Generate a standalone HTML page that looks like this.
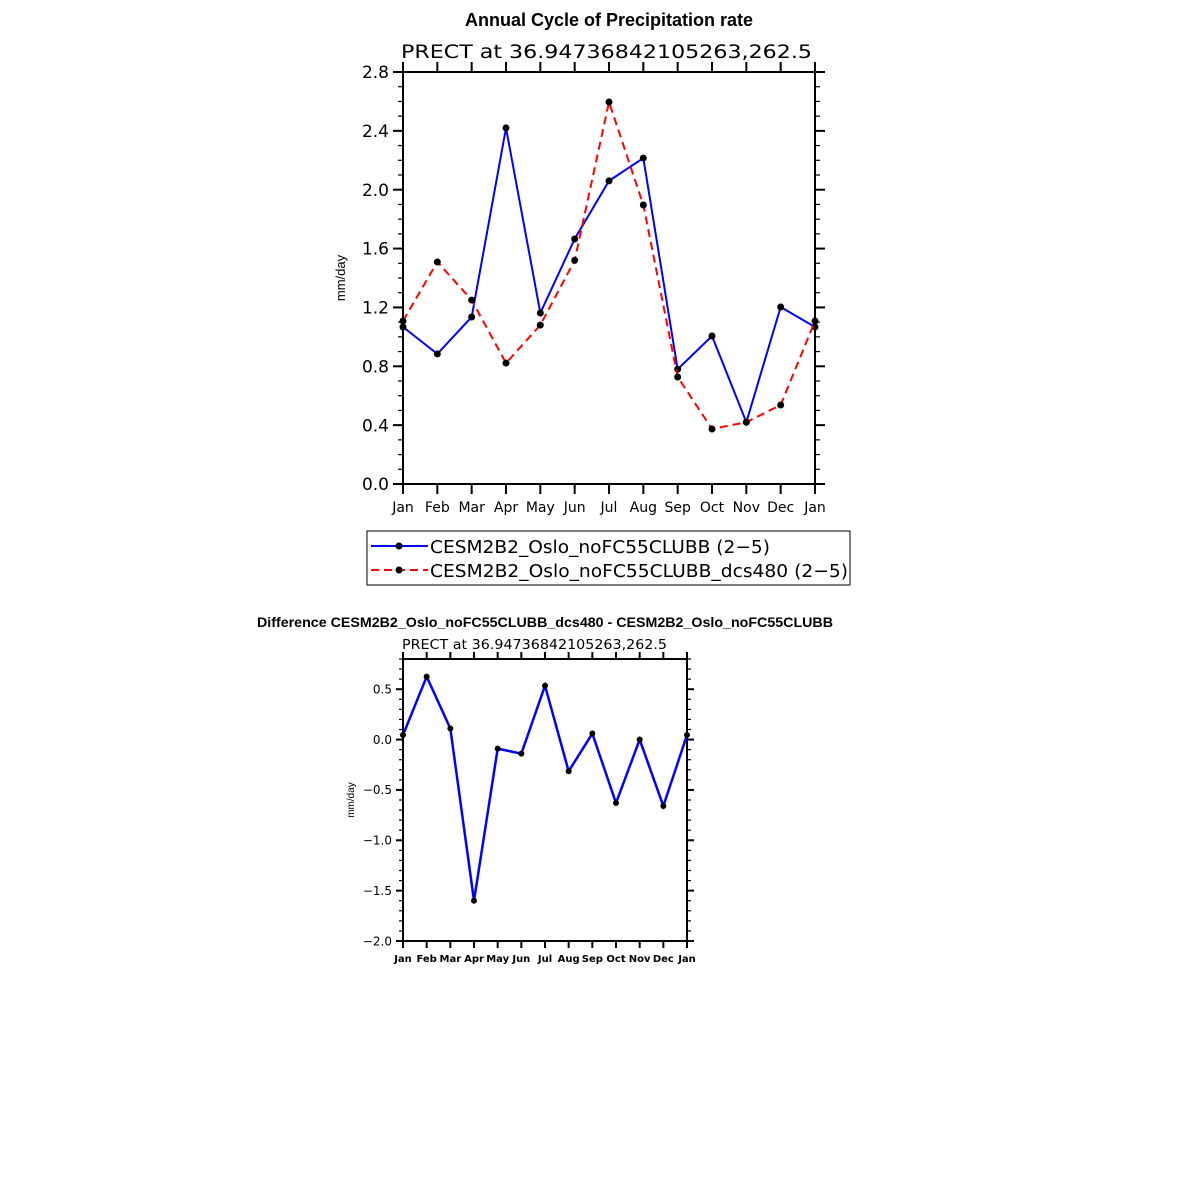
<!DOCTYPE html>
<html><head><meta charset="utf-8"><style>
body{margin:0;background:#fff;}
svg{display:block;font-family:"Liberation Sans",sans-serif;}
</style></head><body>
<svg id="chart" width="1183" height="1183" viewBox="0 0 1183 1183" xmlns="http://www.w3.org/2000/svg">
<rect width="1183" height="1183" fill="#fff"/>
<text x="609" y="26" text-anchor="middle" font-size="18" font-weight="bold">Annual Cycle of Precipitation rate</text>
<text x="401" y="58" font-size="19" font-family="DejaVu Sans,sans-serif" textLength="411" lengthAdjust="spacingAndGlyphs">PRECT at 36.94736842105263,262.5</text>
<text x="257" y="627" font-size="14" font-weight="bold" textLength="576" lengthAdjust="spacingAndGlyphs">Difference CESM2B2_Oslo_noFC55CLUBB_dcs480 - CESM2B2_Oslo_noFC55CLUBB</text>
<text x="402" y="649" font-size="13" font-family="DejaVu Sans,sans-serif" textLength="265" lengthAdjust="spacingAndGlyphs">PRECT at 36.94736842105263,262.5</text>
<g id="top"></g><g id="bot"></g>
<g>
<rect x="367" y="531" width="483" height="54" fill="#fff" stroke="#000" stroke-width="1"/>
<line x1="371" y1="546" x2="428" y2="546" stroke="#00f" stroke-width="2"/>
<circle cx="399" cy="546" r="3.5" fill="#000"/>
<text x="430" y="553" font-size="18" font-family="DejaVu Sans,sans-serif" textLength="340" lengthAdjust="spacingAndGlyphs">CESM2B2_Oslo_noFC55CLUBB (2−5)</text>
<line x1="371" y1="570" x2="428" y2="570" stroke="#f00" stroke-width="2" stroke-dasharray="8,5"/>
<circle cx="399" cy="570" r="3.5" fill="#000"/>
<text x="430" y="577" font-size="18" font-family="DejaVu Sans,sans-serif" textLength="418" lengthAdjust="spacingAndGlyphs">CESM2B2_Oslo_noFC55CLUBB_dcs480 (2−5)</text>
</g>
</svg>
<script>
const months = ["Jan","Feb","Mar","Apr","May","Jun","Jul","Aug","Sep","Oct","Nov","Dec","Jan"];
const baseVals = [1.067,0.884,1.135,2.42,1.162,1.665,2.06,2.215,0.78,1.006,0.42,1.203,1.067];
const dcsVals = [1.108,1.509,1.25,0.822,1.08,1.52,2.596,1.896,0.727,0.374,0.42,0.537,1.108];
const diffVals = [0.045,0.625,0.11,-1.6,-0.09,-0.14,0.535,-0.315,0.06,-0.63,0.0,-0.66,0.045];
const topTicks = ["0.0","0.4","0.8","1.2","1.6","2.0","2.4","2.8"];
const botTicks = ["-2.0","-1.5","-1.0","-0.5","0.0","0.5"];
const NS="http://www.w3.org/2000/svg";
function el(p,t,a){const e=document.createElementNS(NS,t);for(const k in a)e.setAttribute(k,a[k]);p.appendChild(e);return e;}
function drawPanel(g,cfg){
  const {L,R,T,B,ymin,ymax,ticks,minorStep,maj,mn,fs,xfs,xbold,series,r,lw,ylab,ylabX,ylabFs}=cfg;
  const xs=i=>L+(R-L)*i/(months.length-1);
  const ys=v=>B-(v-ymin)/(ymax-ymin)*(B-T);
  const ax=el(g,'g',{});
  
  
  el(ax,'rect',{x:L,y:T,width:R-L,height:B-T,fill:'none',stroke:'#000','stroke-width':2});
  const nmin=Math.round((ymax-ymin)/minorStep);
  for(let k=0;k<=nmin;k++){const v=ymin+k*minorStep;const y=ys(v);
    el(ax,'line',{x1:L-mn,y1:y,x2:L,y2:y,stroke:'#000','stroke-width':1.2});
    el(ax,'line',{x1:R,y1:y,x2:R+mn,y2:y,stroke:'#000','stroke-width':1.2});}
  ticks.forEach(t=>{const y=ys(parseFloat(t));
    el(ax,'line',{x1:L-maj,y1:y,x2:L,y2:y,stroke:'#000','stroke-width':2});
    el(ax,'line',{x1:R,y1:y,x2:R+maj,y2:y,stroke:'#000','stroke-width':2});
    const tx=el(ax,'text',{x:L-maj-4,y:y+fs*0.36,'text-anchor':'end','font-size':fs,'font-family':'DejaVu Sans,sans-serif'});
    
    
    tx.textContent=t.replace('-','−');});
  months.forEach((m,i)=>{const x=xs(i);
    el(ax,'line',{x1:x,y1:B,x2:x,y2:B+maj,stroke:'#000','stroke-width':2});
    el(ax,'line',{x1:x,y1:T-maj,x2:x,y2:T,stroke:'#000','stroke-width':2});
    const tx=el(ax,'text',{x:x,y:B+maj+xfs+4,'text-anchor':'middle','font-size':xfs,'font-family':'DejaVu Sans,sans-serif','font-weight':xbold?'bold':'normal'});
    
    
    tx.textContent=m;});
  const yl=el(ax,'text',{x:ylabX,y:(T+B)/2,'text-anchor':'middle','font-size':ylabFs,transform:`rotate(-90 ${ylabX} ${(T+B)/2})`});
  
  
  yl.textContent=ylab;
  series.forEach(s=>{
    const pts=s.vals.map((v,i)=>xs(i)+','+ys(v)).join(' ');
    const pl=el(g,'polyline',{points:pts,fill:'none',stroke:s.color,'stroke-width':lw,'stroke-dasharray':s.dash||'none'});
    
    
    s.vals.forEach((v,i)=>{const c=el(g,'circle',{cx:xs(i),cy:ys(v),r:r,fill:'#000'});
      
      });
  });
}
drawPanel(document.getElementById('top'),{L:403,R:815,T:72,B:484,ymin:0,ymax:2.8,ticks:topTicks,minorStep:0.1,maj:10,mn:5,fs:17,xfs:14,xbold:false,r:3.5,lw:2,ylab:'mm/day',ylabX:345,ylabFs:13,
  series:[{name:'base-line',vals:baseVals,color:'#00f'},{name:'dcs480-line',vals:dcsVals,color:'#f00',dash:'8,5'}]});
drawPanel(document.getElementById('bot'),{L:403,R:687,T:659,B:941,ymin:-2.0,ymax:0.8,ticks:botTicks,minorStep:0.1,maj:7,mn:4,fs:12,xfs:10,xbold:true,r:3,lw:2.5,ylab:'mm/day',ylabX:354,ylabFs:10,
  series:[{name:'diff-line',vals:diffVals,color:'#00f'}]});
</script>
</body></html>
